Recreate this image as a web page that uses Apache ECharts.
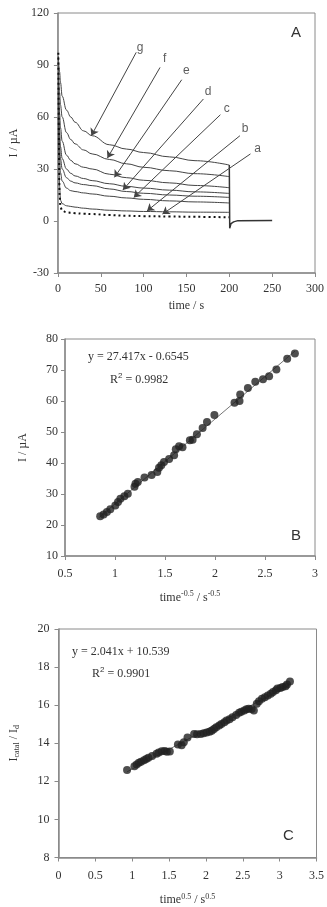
<!DOCTYPE html>
<html><head><meta charset="utf-8">
<script src="https://cdn.jsdelivr.net/npm/echarts@6/dist/echarts.min.js"></script>
<style>html,body{margin:0;padding:0;background:#fff}#c{width:327px;height:907px}</style>
</head><body><div id="c"></div>
<script>
// ---------- Panel A data ----------
var tA = [0.5, 2, 3, 5, 10, 15, 20, 30, 40, 60, 80, 100, 130, 160, 200];
var curveG = [95, 86, 80, 72, 64, 60, 57, 52, 49.2, 44, 41.5, 39.5, 37, 34.8, 32.3];
var curveF = [90, 74, 67, 60, 51, 47, 44.5, 41, 38.7, 35.5, 33, 31, 29, 27.3, 25.6];
var curveE = [85, 62, 54, 46, 38, 35, 33, 31, 30, 27, 25, 23.5, 22, 20.5, 19.2];
var curveD = [80, 52, 43, 36, 30, 27.5, 26, 24.5, 23.3, 21.5, 20, 19, 17.8, 16.8, 15.9];
var curveC = [75, 44, 36, 30, 25, 23, 22, 21, 20.4, 18.5, 17, 16, 15, 14.3, 13.6];
var curveB = [70, 36, 28, 23, 19, 17.5, 17, 16.2, 15.6, 14.3, 13.3, 12.5, 11.6, 11, 10.4];
var curveA = [60, 20, 12, 10, 8.8, 8.4, 8, 7.4, 6.9, 6.2, 5.8, 5.5, 5.3, 5.1, 5.0];
var curveDot = [97, 15, 8, 6, 5, 4.8, 4.5, 4.2, 4.0, 3.4, 3.0, 2.8, 2.6, 2.4, 2.1];
var tailT = [200, 200.5, 202, 205, 210, 250];
var tailI = [32.3, -4.2, -1.5, -0.5, 0.2, 0.3];
var arrowNames = ['g', 'f', 'e', 'd', 'c', 'b', 'a'];
var arrowStartT = [91.4, 119.2, 144.5, 169.8, 189.6, 212.4, 224.7];
var arrowStartI = [97.3, 88.6, 81.5, 70.4, 61.3, 49.2, 38.7];
var arrowTipT = [39, 57.8, 66, 75.8, 88.5, 104, 122];
var arrowTipI = [49.2, 36.3, 25.2, 17.9, 13.6, 5.8, 4.0];
var labelT = [95.8, 124.6, 149.9, 175.2, 196.9, 218.5, 233];
var labelI = [100.2, 93.5, 86.7, 74.8, 64.6, 53.1, 41.5];

// ---------- Panel B data ----------
var bX = [0.852, 0.886, 0.919, 0.953, 1.003, 1.030, 1.054, 1.094, 1.128, 1.195, 1.205, 1.228, 1.295, 1.366, 1.423, 1.440, 1.463, 1.490, 1.541, 1.591, 1.608, 1.641, 1.675, 1.749, 1.776, 1.819, 1.876, 1.920, 1.994, 2.195, 2.245, 2.252, 2.329, 2.403, 2.480, 2.541, 2.614, 2.722, 2.799];
var bY = [22.8, 23.4, 24.2, 25.1, 26.3, 27.4, 28.5, 29.3, 30.1, 32.3, 33.3, 33.9, 35.3, 36.1, 37.1, 38.5, 39.3, 40.3, 41.3, 42.5, 44.4, 45.4, 45.1, 47.3, 47.5, 49.3, 51.3, 53.2, 55.5, 59.4, 60.0, 62.1, 64.2, 66.2, 67.0, 68.0, 70.2, 73.6, 75.3];
var bLineX = [0.84, 2.80];
var bLineY = [22.4, 76.1];

// ---------- Panel C data ----------
var cX = [0.93, 1.03, 1.06, 1.09, 1.12, 1.16, 1.19, 1.22, 1.27, 1.33, 1.36, 1.40, 1.44, 1.47, 1.51, 1.62, 1.67, 1.70, 1.75, 1.84, 1.88, 1.93, 1.97, 2.01, 2.05, 2.08, 2.11, 2.14, 2.18, 2.21, 2.25, 2.28, 2.32, 2.36, 2.41, 2.45, 2.48, 2.52, 2.55, 2.58, 2.62, 2.65, 2.69, 2.72, 2.76, 2.80, 2.84, 2.88, 2.91, 2.95, 2.97, 3.01, 3.04, 3.08, 3.10, 3.14];
var cY = [12.6, 12.79, 12.88, 12.97, 13.03, 13.11, 13.17, 13.24, 13.33, 13.45, 13.52, 13.58, 13.59, 13.56, 13.57, 13.94, 13.9, 14.05, 14.3, 14.48, 14.47, 14.48, 14.52, 14.57, 14.6, 14.66, 14.75, 14.84, 14.93, 15.01, 15.1, 15.19, 15.26, 15.36, 15.48, 15.6, 15.66, 15.72, 15.78, 15.81, 15.8, 15.72, 16.07, 16.2, 16.34, 16.42, 16.51, 16.6, 16.69, 16.78, 16.87, 16.9, 16.96, 17.0, 17.08, 17.24];
var cLineX = [0.93, 3.15];
var cLineY = [12.5, 17.1];

// ---------- build ----------
function zip(a, b) { return a.map(function (v, i) { return [v, b[i]]; }); }
var serif = 'Liberation Serif';
var sans = 'Liberation Sans';
var txt = '#333';
var axCol = '#8a8a8a';
function axisCommon(gridIndex, min, max, interval, margin) {
  return {
    gridIndex: gridIndex, type: 'value', min: min, max: max, interval: interval,
    axisLine: { show: true, onZero: false, lineStyle: { color: axCol, width: 1.5 } },
    axisTick: { show: true, inside: false, length: 4, lineStyle: { color: axCol } },
    axisLabel: { color: txt, fontFamily: serif, fontSize: 12, margin: margin },
    splitLine: { show: false }
  };
}
var richSup = { sup: { fontSize: 8, verticalAlign: 'bottom', padding: [0, 0, 7, 0], color: txt, fontFamily: serif } };
var richSub = { sub: { fontSize: 8, padding: [5, 0, 0, 0], color: txt, fontFamily: serif }, n: { fontSize: 12, color: txt, fontFamily: serif } };

var xA = axisCommon(0, 0, 300, 50, 10);
xA.name = 'time / s'; xA.nameLocation = 'middle'; xA.nameGap = 27;
xA.nameTextStyle = { color: txt, fontFamily: serif, fontSize: 12 };
var yA = axisCommon(0, -30, 120, 30, 9);
yA.name = 'I / µA'; yA.nameLocation = 'middle'; yA.nameGap = 27;
yA.nameTextStyle = { color: txt, fontFamily: serif, fontSize: 12 };

var xB = axisCommon(1, 0.5, 3, 0.5, 12);
xB.name = 'time{sup|-0.5} / s{sup|-0.5}'; xB.nameLocation = 'middle'; xB.nameGap = 34;
xB.nameTextStyle = { color: txt, fontFamily: serif, fontSize: 12, rich: richSup };
var yB = axisCommon(1, 10, 80, 10, 7);
yB.name = 'I / µA'; yB.nameLocation = 'middle'; yB.nameGap = 36;
yB.nameTextStyle = { color: txt, fontFamily: serif, fontSize: 12 };

var xC = axisCommon(2, 0, 3.5, 0.5, 12);
xC.name = 'time{sup|0.5} / s{sup|0.5}'; xC.nameLocation = 'middle'; xC.nameGap = 35;
xC.nameTextStyle = { color: txt, fontFamily: serif, fontSize: 12, rich: richSup };
var yC = axisCommon(2, 8, 20, 2, 9);
yC.name = '{n|I}{sub|catal}{n| / I}{sub|d}'; yC.nameLocation = 'middle'; yC.nameGap = 38;
yC.nameTextStyle = { color: txt, fontFamily: serif, fontSize: 12, rich: richSub };

var curveList = [curveG, curveF, curveE, curveD, curveC, curveB, curveA];
var series = [];
curveList.forEach(function (c) {
  series.push({ type: 'line', xAxisIndex: 0, yAxisIndex: 0, data: zip(tA, c), symbol: 'none', smooth: 0.4, smoothMonotone: 'x', lineStyle: { color: '#444', width: 1 }, silent: true, z: 3 });
});
series.push({ type: 'line', xAxisIndex: 0, yAxisIndex: 0, data: zip(tA, curveDot), symbol: 'none', smooth: 0.4, smoothMonotone: 'x', lineStyle: { color: '#111', width: 2, type: [2, 3] }, silent: true, z: 3 });
series.push({ type: 'line', xAxisIndex: 0, yAxisIndex: 0, data: zip(tailT, tailI), symbol: 'none', lineStyle: { color: '#333', width: 1.5 }, silent: true, z: 3 });
series.push({
  type: 'lines', coordinateSystem: 'cartesian2d', xAxisIndex: 0, yAxisIndex: 0,
  data: arrowNames.map(function (n, i) { return { coords: [[arrowStartT[i], arrowStartI[i]], [arrowTipT[i], arrowTipI[i]]] }; }),
  symbol: ['none', 'arrow'], symbolSize: 7,
  lineStyle: { color: '#444', width: 1, opacity: 1 }, silent: true, z: 4
});
series.push({
  type: 'scatter', xAxisIndex: 0, yAxisIndex: 0, symbolSize: 0,
  data: zip(labelT, labelI).map(function (p, i) { return { value: p, name: arrowNames[i] }; }),
  label: { show: true, position: 'inside', formatter: '{b}', fontFamily: sans, fontSize: 12, color: '#333' }, silent: true, z: 5
});
// Panel B
series.push({ type: 'line', xAxisIndex: 1, yAxisIndex: 1, data: zip(bLineX, bLineY), symbol: 'none', lineStyle: { color: '#777', width: 1 }, silent: true, z: 2 });
series.push({ type: 'scatter', xAxisIndex: 1, yAxisIndex: 1, data: zip(bX, bY), symbolSize: 8, itemStyle: { color: '#222' }, silent: true, z: 3 });
// Panel C
series.push({ type: 'line', xAxisIndex: 2, yAxisIndex: 2, data: zip(cLineX, cLineY), symbol: 'none', lineStyle: { color: '#777', width: 1 }, silent: true, z: 2 });
series.push({ type: 'scatter', xAxisIndex: 2, yAxisIndex: 2, data: zip(cX, cY), symbolSize: 8, itemStyle: { color: '#222' }, silent: true, z: 3 });

var gridStyle = { show: true, borderColor: axCol, borderWidth: 1, backgroundColor: 'transparent' };
var option = {
  animation: false,
  backgroundColor: '#fff',
  grid: [
    Object.assign({ left: 43, top: 13, width: 277, height: 260 }, gridStyle),
    Object.assign({ left: 65, top: 339, width: 250, height: 217 }, gridStyle),
    Object.assign({ left: 53, top: 629, width: 268, height: 229 }, gridStyle)
  ],
  xAxis: [xA, xB, xC],
  yAxis: [yA, yB, yC],
  graphic: [
    { type: 'text', left: 291, top: 25, style: { text: 'A', font: '15px ' + sans, fill: '#333' } },
    { type: 'text', left: 291, top: 528, style: { text: 'B', font: '15px ' + sans, fill: '#333' } },
    { type: 'text', left: 283, top: 828, style: { text: 'C', font: '15px ' + sans, fill: '#333' } },
    { type: 'text', left: 88, top: 351, style: { text: 'y = 27.417x - 0.6545', font: '12px ' + serif, fill: '#333' } },
    { type: 'text', left: 110, top: 372, style: { text: 'R{s|2} = 0.9982', font: '12px ' + serif, fill: '#333', rich: { s: { fontSize: 8, verticalAlign: 'bottom', padding: [0, 0, 7, 0], fill: '#333' } } } },
    { type: 'text', left: 72, top: 646, style: { text: 'y = 2.041x + 10.539', font: '12px ' + serif, fill: '#333' } },
    { type: 'text', left: 92, top: 666, style: { text: 'R{s|2} = 0.9901', font: '12px ' + serif, fill: '#333', rich: { s: { fontSize: 8, verticalAlign: 'bottom', padding: [0, 0, 7, 0], fill: '#333' } } } }
  ],
  series: series
};
var chart = echarts.init(document.getElementById('c'), null, { renderer: 'canvas' });
chart.setOption(option);
</script>
</body></html>
